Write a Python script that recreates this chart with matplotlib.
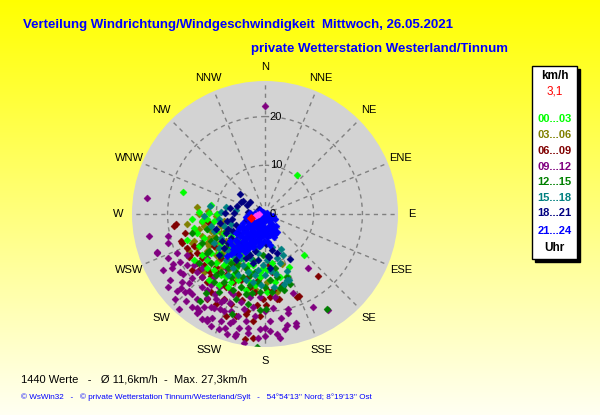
import numpy as np
import matplotlib
matplotlib.use('Agg')
import matplotlib.pyplot as plt
from matplotlib.patches import Rectangle

W, H = 600, 415

# wind vectors per 3-hour block: (east, north) components in km/h
h00_03 = [(-16.9,4.6),(8.0,-8.4),(6.5,8.1),(-11.0,1.8),(-13.6,0.5),(-14.6,-2.9),(-16.1,-5.3),
          (4.9,-10.9),(4.5,-12.7),(3.0,-13.0),(-12.0,-1.0),(-10.0,-3.5),(-12.5,-5.0),(-9.0,-6.0),
          (-11.0,-8.0),(-7.5,-8.5),(-8.5,-10.5),(-6.0,-11.0),(-10.5,-11.5),(-4.5,-9.0),(-3.0,-12.0),
          (-5.5,-13.5),(-8.0,-13.0),(-2.0,-14.5),(-0.5,-11.0),(-1.5,-9.5),(-7.0,-4.5),(-5.0,-7.5),
          (-13.0,-8.5),(-9.5,-14.5),(-4.0,-15.5),(1.0,-13.5),(-11.5,-13.5),(0.5,-16.0),(-9.9,0.0),
          (-6.5,-9.5),(-3.5,-10.5),(-1.0,-13.0),(2.0,-12.0),(-12.0,-11.0),(-7.5,-15.0),
          (-13.0,-1.5),(-14.0,-4.0),(-12.0,-3.0),(-10.5,-1.5),(-8.5,-4.0),(-9.5,-8.0),(-12.0,-9.5),
          (-7.0,-7.0),(-5.5,-9.5),(-4.0,-11.0),(-6.5,-12.5),(-9.0,-12.5),(-2.5,-10.5),(-1.0,-12.0),
          (0.5,-11.5),(1.5,-10.0),(2.0,-14.0),(-3.0,-14.0),(-5.0,-15.0),(-7.0,-14.0),(-10.0,-10.0),
          (-13.5,-6.5),(-11.5,0.3),(-8.0,-10.0),(-6.0,-5.5),(-3.5,-8.0),(-15.0,-1.0),(-14.5,-9.5)]
h03_06 = [(-11.8,0.7),(-12.7,-1.2),(-10.0,-0.5),(-13.5,-3.0),(-11.0,-3.5),(-9.0,-2.5),(-14.5,-5.5),
          (-12.0,-6.0),(-10.0,-7.0),(-8.0,-5.5),(-13.0,-8.5),(-15.5,-7.5),(-9.5,-9.5),(-7.0,-8.0),
          (-11.0,-10.0),(3.4,-10.2),(-2.0,-15.4),(-5.5,-10.0),(-7.5,-11.5),(-16.0,-2.0),(-14.0,1.5),
          (-6.0,-13.0),(2.5,-16.0),(-3.5,-16.5),(-12.5,-12.0),(-12.9,-1.6),(-9.9,0.0),(-11.5,-5.0),
          (-8.5,-7.5),(-14.0,-7.0),(-13.0,-4.5),(-11.5,-6.5),(-10.5,-4.5),(-9.0,-4.0),(-12.5,-2.5),
          (-11.0,-2.0),(-9.5,-6.0),(-8.0,-7.0),(-10.0,-8.5),(-12.0,-7.5),(-14.5,-3.5),(-15.0,-6.0),
          (-8.5,-1.5),(-13.5,0.0),(-7.5,-9.5),(-9.0,-11.0),(-6.5,-6.0),(-5.0,-8.5),(-1.0,-13.0),
          (0.5,-14.0)]
h06_09 = [(-18.7,-2.4),(-18.2,-2.0),(-17.3,-5.6),(-17.0,-5.9),(-15.3,-8.4),(-15.5,-8.8),(-12.9,-9.0),
          (-13.6,-11.4),(-11.8,-1.6),(-9.7,-12.1),(-11.0,-12.8),(-8.0,-15.0),(-6.5,-14.0),(-4.8,-17.6),
          (-3.7,-19.9),(-4.1,-25.7),(-2.5,-25.4),(-1.7,-18.6),(-1.0,-21.0),(0.3,-18.6),(2.4,-17.5),
          (2.9,-17.5),(1.7,-15.5),(6.5,-17.0),(6.9,-16.9),(10.9,-12.8),(-14.5,-6.5),(-10.5,-6.5),
          (-9.0,-9.0),(-6.5,-10.5),(-5.0,-13.5),(-3.0,-15.0),(-1.5,-13.5),(0.5,-15.5),(-8.5,-17.5),
          (-11.0,-16.0),(1.5,-12.0),(-6.0,-21.0),(3.5,-14.5),(0.8,-10.5),(-12.0,-14.0),(-14.0,-10.0),
          (-16.0,-7.0),(-14.0,-8.0),(-12.5,-10.5),(-11.5,-11.8),(-10.0,-10.8),(-8.0,-12.5),
          (-9.0,-14.5),(-7.0,-15.5),(-5.5,-16.5),(-3.5,-13.0),(-2.0,-16.0),(-0.5,-17.5),(1.0,-17.0),
          (-13.0,-13.0),(-15.0,-11.5),(-12.0,-17.5),(-10.0,-18.5),(-7.0,-18.5),(-4.0,-20.5),
          (-2.5,-22.0),(-8.0,-21.0),(-16.5,-4.0),(-13.5,-6.5),(-6.0,-8.0)]
h09_12 = [(0.0,22.2),(-24.2,3.2),(-23.8,-4.6),(-20.0,-4.6),(-22.2,-7.9),(8.8,-11.1),(9.9,-19.0),
          (12.9,-19.7),(5.8,-16.2),(4.7,-19.6),(4.8,-20.3),(3.3,-21.3),(4.5,-22.7),(6.3,-23.0),
          (6.4,-22.4),(4.1,-23.7),(2.4,-24.7),(0.0,-25.0),(0.1,-23.5),(-1.0,-23.7),(1.7,-19.2),
          (-22.1,-8.0),(-18.8,-10.2),(-16.8,-12.3),(-17.5,-9.9),(-15.0,-13.1),(-15.6,-14.1),
          (-17.3,-15.2),(-18.0,-15.9),(-15.6,-15.9),(-15.0,-16.4),(-16.3,-17.9),(-17.7,-19.6),
          (-13.9,-19.2),(-13.6,-19.9),(-14.0,-20.4),(-12.9,-21.5),(-11.9,-21.5),(-10.9,-21.3),
          (-10.5,-19.2),(-9.2,-19.6),(-9.5,-23.7),(-8.2,-23.3),(-7.8,-24.7),(-6.1,-25.0),(-6.0,-24.7),
          (-5.4,-23.3),(-4.4,-26.4),(-3.4,-23.3),(-7.1,-22.3),(-4.4,-19.6),(-7.1,-18.2),(-8.5,-17.6),
          (-10.2,-16.5),(-11.9,-17.2),(-6.5,-16.5),(-12.0,-9.0),(-10.5,-13.0),(-8.0,-11.0),
          (-7.0,-16.0),(-5.0,-18.0),(-3.0,-17.0),(-9.0,-18.0),(-11.0,-19.0),(-2.0,-21.0),(0.0,-20.0),
          (1.0,-22.0),(2.0,-17.0),(-1.0,-17.0),(-14.0,-12.0),(-16.0,-10.5),(-17.0,-14.0),(-13.0,-15.0),
          (-19.0,-11.0),(-15.0,-19.0),(-12.0,-22.0),(-7.0,-20.0),(-4.0,-22.0),(-19.9,-6.0),
          (-13.0,-11.0),(-11.0,-14.5),(-9.5,-15.0),(-5.5,-21.0),(-2.5,-19.0),(3.0,-25.5),
          (-16.0,-8.5),(-18.0,-8.0),(-20.0,-9.0),(-14.5,-10.5),(-13.0,-13.0),(-12.0,-15.5),
          (-10.0,-17.5),(-8.5,-20.0),(-6.5,-22.0),(-3.5,-24.5),(-1.5,-25.5),(1.0,-24.0),(-17.5,-12.0),
          (-19.5,-13.5),(-16.5,-16.0),(-14.0,-17.5),(-12.5,-19.0),(-11.0,-23.0),(-9.0,-22.0),
          (-21.0,-11.5),(-20.0,-15.0),(-18.5,-17.5)]
h12_15 = [(12.7,-19.5),(-1.6,-27.2),(-13.3,-17.9),(-12.2,-16.2),(-6.8,-20.6),(-1.0,-19.8),(0.3,-19.6),
          (3.1,-15.2),(3.6,-14.8),(-10.0,-5.0),(-8.0,-7.0),(-6.0,-9.0),(-4.0,-11.0),(-2.0,-12.0),
          (-9.0,-12.0),(-11.0,-10.0),(-7.0,-13.0),(-5.0,-15.0),(-3.0,-14.5),(-12.0,-3.0),(-13.0,-6.0),
          (-8.0,-3.5),(-5.5,-5.0),(1.0,-13.5),(-1.0,-16.0),(-4.0,-6.5),(-10.5,-14.0),(2.0,-11.0),
          (-15.0,-4.0),(-6.0,-17.5),(-2.7,-16.2),(-11.5,-7.5),(-7.0,-10.0),(-9.0,-8.5),(-7.5,-11.0),
          (-6.0,-12.0),(-4.5,-13.0),(-3.0,-12.5),(-1.5,-14.0),(0.0,-15.0),(1.5,-16.0),(-8.5,-14.0),
          (-10.0,-12.5),(-12.0,-8.0),(-13.5,-10.0),(-11.0,-5.5),(-5.5,-10.5),(-2.5,-9.5),(-0.5,-8.5),
          (2.5,-13.0),(4.0,-15.5),(-6.5,-15.5),(-4.0,-16.5),(-9.5,-16.0),(-3.5,-18.5),(4.5,-13.0),
          (5.2,-14.3)]
h15_18 = [(3.3,-7.2),(1.2,-11.6),(2.2,-12.3),(3.9,-14.3),(4.5,-13.5),(-1.0,-6.5),(-2.5,-5.5),
          (-4.0,-7.0),(-5.5,-5.5),(-7.0,-3.5),(-8.5,-2.5),(-9.5,-1.0),(-11.2,1.7),(-12.5,-0.5),
          (-6.0,-6.8),(-3.0,-9.0),(-1.5,-8.0),(-7.5,-7.5),(-9.0,-5.0),(-10.5,-3.5),(-4.5,-10.5),
          (-2.0,-12.5),(-6.5,-11.0),(0.5,-9.5),(-8.0,1.5),(1.8,-15.0),(-0.8,-14.5),(3.0,-10.0),
          (-6.0,0.8),(-2.8,-2.2),(-2.0,-7.0),(-3.5,-8.0),(-5.0,-9.0),(-6.5,-8.5),(-8.0,-9.5),
          (-9.5,-7.0),(-10.5,-6.0),(-0.5,-10.5),(-1.5,-11.5),(-3.5,-12.0),(-5.5,-12.5),(2.5,-9.0),
          (3.6,-8.4),(4.6,-11.6),(5.0,-13.5),(1.5,-6.8),(-7.0,-2.0),(-9.0,0.5),(-11.0,-2.5),
          (-4.0,-13.5),(-2.5,-14.0),(0.0,-12.5),(-7.5,-12.5)]
h18_21 = [(-5.1,4.2),(-5.8,1.7),(-3.7,1.8),(-3.4,0.5),(-8.2,0.3),(-9.2,-1.9),(-6.8,-1.0),(-7.5,-3.0),
          (-6.0,-2.2),(-4.2,-3.2),(-5.5,-4.0),(1.4,-7.3),(0.7,-8.7),(5.1,-9.2),(0.8,-8.9),(-3.0,-8.5),
          (-4.8,-6.0),(-7.0,-5.0),(-2.0,-7.6),(-8.0,-4.0),(-6.4,0.3),(-3.8,-1.2),(-1.2,1.0),
          (-10.0,-3.0),(-5.8,-8.0),(-2.5,-10.0),(1.0,-11.0),(-4.6,2.6),(-7.2,1.2),(0.3,-6.2),
          (-6.5,-3.5),(-7.5,-6.0),(-8.5,-7.0),(-9.5,-8.5),(-5.0,2.5),(-3.0,2.5),(-7.8,-1.5),
          (-6.0,-9.5),(-8.8,-5.5),(-4.0,-9.0),(-1.5,-9.5),(2.5,-8.0)]
h21_24 = [(0.5,0.3),(1.0,-0.3),(1.3,-1.0),(0.8,-1.5),(1.5,-2.0),(1.2,-2.6),(0.6,-3.2),(1.4,-3.5),
          (0.2,-4.0),(-0.3,-0.5),(-0.8,-1.0),(-0.3,-1.6),(-1.2,-1.8),(-0.6,-2.4),(-1.5,-2.8),
          (-2.2,-2.2),(-1.0,-3.3),(-2.0,-3.6),(-2.8,-3.0),(-1.6,-4.3),(-2.6,-4.5),(-3.4,-4.0),
          (-3.0,-5.2),(-4.0,-4.8),(-3.6,-5.9),(-4.6,-5.6),(-4.2,-6.6),(-5.3,-6.3),(-5.0,-7.1),
          (-2.0,-5.5),(-1.0,-5.0),(-0.2,-5.6),(0.4,-4.8),(1.0,-4.4),(-0.5,0.4),(-1.5,-0.2),
          (-2.4,-1.0),(-3.2,-1.8),(-3.8,-2.8),(-4.5,-3.6),(-5.2,-4.5),(-6.0,-5.3),(-1.0,0.8),
          (-2.0,0.2),(0.0,-2.8),(-0.8,-6.2),(-2.5,-6.8),(-3.8,-7.5),(-6.2,-6.9),(0.6,-5.8),
          (-1.8,-1.2),(-2.6,-2.0),(0.4,-1.0),(-0.2,-3.6),(-1.2,-6.6),(-3.0,-6.2),(1.8,-3.0),
          (2.0,-4.2),(-4.0,-0.6),(-3.0,0.2),(-5.2,-2.6),(1.6,-0.4),
          (-0.5,-1.2),(-1.0,-2.0),(-1.8,-2.5),(-2.4,-3.4),(-3.0,-4.2),(-3.8,-5.0),(-4.4,-6.0),
          (-5.0,-6.8),(-5.6,-7.4),(-6.4,-7.8),(-7.0,-8.2),(-7.8,-8.6),(-6.8,-6.4),(-5.8,-5.8),
          (-4.8,-4.6),(-3.8,-3.6),(-2.8,-2.6),(-1.8,-1.6),(-0.8,-0.4),(0.2,-0.6),(-0.4,-4.4),
          (-1.4,-5.4),(-2.2,-6.2),(-3.2,-7.0),(-4.2,-7.8),(-5.4,-8.4),(0.8,-2.4),(0.0,-3.2),
          (-0.8,-4.0),(-1.4,-3.8),(-2.6,-5.6),(-3.4,-6.4),(2.0,-1.0),(2.2,-2.4),(2.4,-3.6),
          (1.8,-4.8),(1.0,-6.4),(-6.0,-4.0),(-7.2,-5.6),(-6.6,-7.2),(-2.6,-0.2),(-3.6,-0.8),
          (-4.6,-1.8),(-5.4,-3.0),(-4.6,-2.6),(-3.4,-2.4),(-2.0,-4.6),(-1.2,-5.8)]
current_speed = 3.1
current_dir = 253
trail = [(-2.0,-0.4),(-1.6,-0.2),(-1.2,-0.1)]

groups = [h00_03, h03_06, h06_09, h09_12, h12_15, h15_18, h18_21, h21_24]
group_labels = ['00...03','03...06','06...09','09...12','12...15','15...18','18...21','21...24']
group_colors = ['#00ff00','#808000','#800000','#800080','#008000','#008080','#000080','#0000ff']
draw_order = [1, 2, 3, 0, 4, 5, 6, 7]

directions = ['N','NNE','NE','ENE','E','ESE','SE','SSE','S','SSW','SW','WSW','W','WNW','NW','NNW']
rings = [10, 20]
r_max = 27.3
n_values = 1440
mean_speed = 11.6

def fx(px):
    return px / W

def fy(py):
    return 1 - py / H

fig = plt.figure(figsize=(6, 4.15), dpi=100)

# yellow background gradient
bg = fig.add_axes([0, 0, 1, 1], zorder=-10)
grad = np.linspace(0, 1, 256).reshape(-1, 1)
top = np.array([1.0, 1.0, 0.0])
bot = np.array([1.0, 1.0, 0.95])
img = top + (bot - top) * grad[:, :, None]
bg.imshow(img, aspect='auto', extent=[0, 1, 0, 1])
bg.axis('off')

# polar plot
cx, cy, rad = 265, 214, 133
ax = fig.add_axes([fx(cx - rad), fy(cy + rad), 2 * rad / W, 2 * rad / H], projection='polar')
ax.set_facecolor('#d3d3d3')
ax.set_theta_zero_location('N')
ax.set_theta_direction(-1)
ax.set_ylim(0, r_max)
ax.set_thetagrids(np.arange(0, 360, 22.5), [''] * 16)
ax.set_rgrids(rings, [''] * len(rings))
ax.grid(True, color='#808080', linestyle=(0, (3, 3)), linewidth=1)
ax.spines['polar'].set_visible(False)

for k in draw_order:
    p = np.array(groups[k])
    col = group_colors[k]
    theta = np.arctan2(p[:, 0], p[:, 1])
    spd = np.hypot(p[:, 0], p[:, 1])
    ax.scatter(theta, spd, marker='D', s=13, color=col, linewidths=0.3, edgecolors=col, zorder=3)

tr = np.array(trail)
ax.scatter(np.arctan2(tr[:, 0], tr[:, 1]), np.hypot(tr[:, 0], tr[:, 1]),
           marker='D', s=13, color='#ff40ff', linewidths=0.3, edgecolors='#ff40ff', zorder=4)
ax.scatter([np.deg2rad(current_dir)], [current_speed], marker='D', s=14, color='#ff0000', zorder=5)

lab_r = r_max * 147 / rad
for i, d in enumerate(directions):
    ax.text(np.deg2rad(i * 22.5), lab_r, d, ha='center', va='center', fontsize=8,
            family='Liberation Sans', clip_on=False)
for r in [0] + rings:
    ax.annotate(str(r), xy=(0, r), xytext=(3.5, 0), textcoords='offset points',
                ha='left', va='center', fontsize=8, family='Liberation Sans', zorder=6)

# titles
fig.text(fx(23), fy(25), 'Verteilung Windrichtung/Windgeschwindigkeit  Mittwoch, 26.05.2021',
         color='#0000ff', fontsize=9.5, fontweight='bold', family='Liberation Sans', va='center')
fig.text(fx(251), fy(49), 'private Wetterstation Westerland/Tinnum',
         color='#0000ff', fontsize=9.5, fontweight='bold', family='Liberation Sans', va='center')

# legend box
bx0, by0, bx1, by1 = 532, 66, 577, 259
fig.patches.append(Rectangle((fx(bx0 + 3), fy(by1 + 3)), (bx1 - bx0) / W, (by1 - by0) / H,
                             transform=fig.transFigure, facecolor='black', edgecolor='black', zorder=1))
fig.patches.append(Rectangle((fx(bx0), fy(by1)), (bx1 - bx0) / W, (by1 - by0) / H,
                             transform=fig.transFigure, facecolor='white', edgecolor='black',
                             linewidth=1, zorder=2))
lx = fx((bx0 + bx1) / 2)
fig.text(lx, fy(76), 'km/h', ha='center', va='center', fontsize=8.5, fontweight='bold',
         family='Liberation Sans', zorder=3)
fig.text(lx, fy(92), str(current_speed).replace('.', ','), ha='center', va='center', fontsize=8.5,
         color='#ff0000', family='Liberation Sans', zorder=3)
leg_y = [119, 135, 151, 167, 182, 198, 213, 231]
for lab, col, yy in zip(group_labels, group_colors, leg_y):
    fig.text(lx, fy(yy), lab, ha='center', va='center', fontsize=8, fontweight='bold',
             color=col, family='Liberation Sans', zorder=3)
fig.text(lx, fy(248), 'Uhr', ha='center', va='center', fontsize=8.5, fontweight='bold',
         family='Liberation Sans', zorder=3)

# footer
fig.text(fx(21), fy(379), f'{n_values} Werte   -   Ø {str(mean_speed).replace(".", ",")}km/h  -  '
         f'Max. {str(r_max).replace(".", ",")}km/h',
         fontsize=8, family='Liberation Sans', va='center')
fig.text(fx(21), fy(397), "© WsWin32   -   © private Wetterstation Tinnum/Westerland/Sylt   -   "
         "54°54'13'' Nord; 8°19'13'' Ost",
         fontsize=5.85, color='#0000ff', family='Liberation Sans', va='center')

fig.savefig('out.png', dpi=100)
